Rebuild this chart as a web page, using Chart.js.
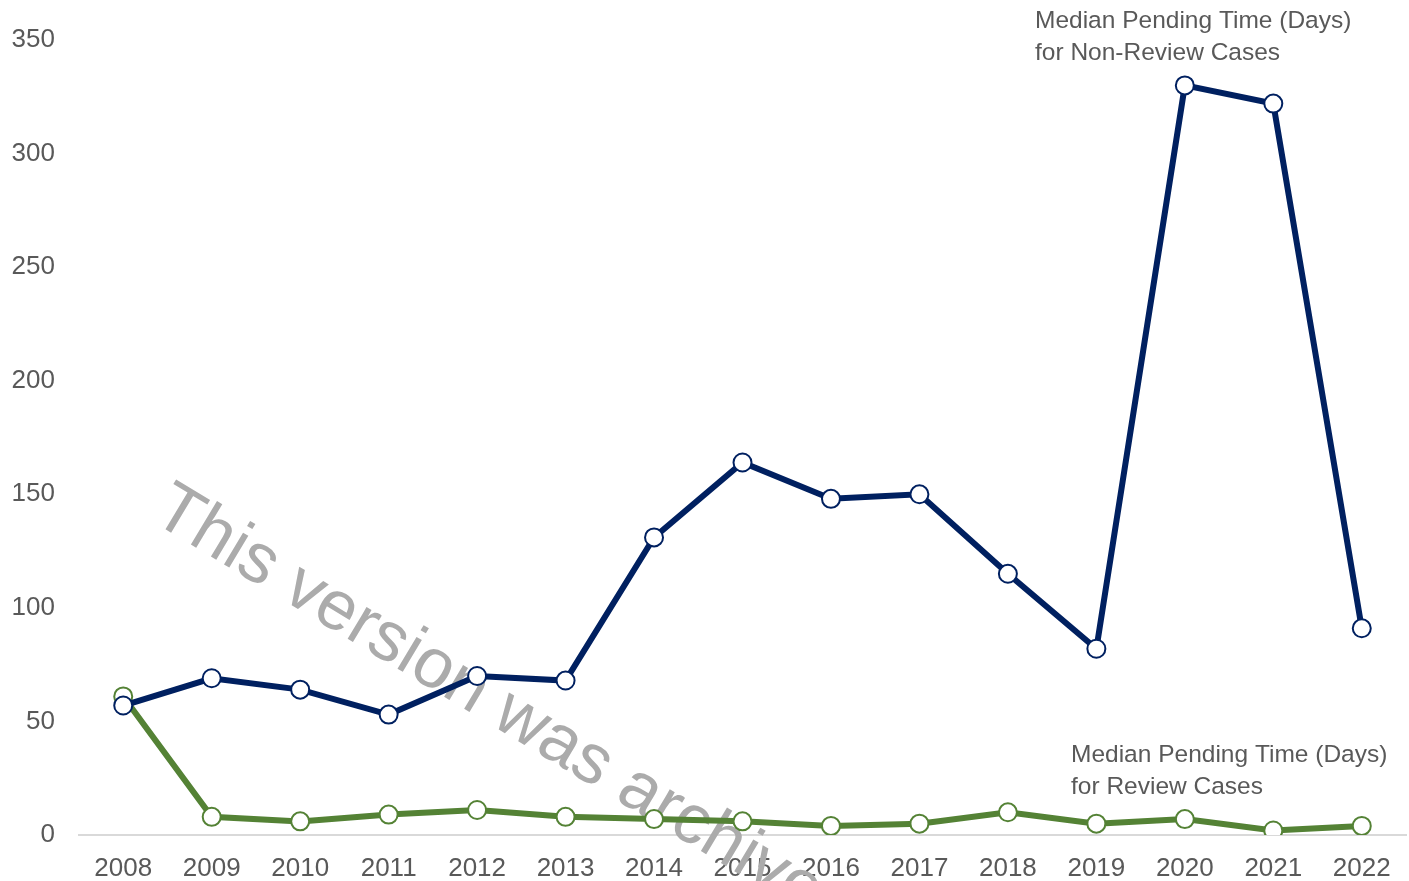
<!DOCTYPE html>
<html>
<head>
<meta charset="utf-8">
<script src="https://cdn.jsdelivr.net/npm/chart.js@4.4.1/dist/chart.umd.min.js"></script>
<style>
  html, body { margin: 0; padding: 0; background: #fff; }
  #wrap { width: 1409px; height: 881px; position: relative; }
</style>
</head>
<body>
<div id="wrap"><canvas id="grafico"></canvas></div>
<script>
const anios = ['2008', '2009', '2010', '2011', '2012', '2013', '2014', '2015',
               '2016', '2017', '2018', '2019', '2020', '2021', '2022'];
const noRevision = [57, 69, 64, 53, 70, 68, 131, 164, 148, 150, 115, 82, 330, 322, 91];
const revision = [61, 8, 6, 9, 11, 8, 7, 6, 4, 5, 10, 5, 7, 2, 4];
const etiquetaNoRevision = ['Median Pending Time (Days)', 'for Non-Review Cases'];
const etiquetaRevision = ['Median Pending Time (Days)', 'for Review Cases'];
const marcaAgua = 'This version was archived.';

const fuente = '"Liberation Sans", Arial, sans-serif';
const grisTexto = '#595959';

// etiquetas de las series y marca de agua
const textosExtra = {
    id: 'textosExtra',
    beforeDatasetsDraw(chart) {
        const ctx = chart.ctx;
        ctx.save();
        ctx.translate(150, 520);
        ctx.rotate(31 * Math.PI / 180);
        ctx.font = '70px ' + fuente;
        ctx.fillStyle = '#ababab';
        ctx.textBaseline = 'alphabetic';
        ctx.fillText(marcaAgua, 0, 0);
        ctx.restore();
    },
    afterDatasetsDraw(chart) {
        const ctx = chart.ctx;
        ctx.save();
        ctx.font = '24.5px ' + fuente;
        ctx.fillStyle = grisTexto;
        ctx.textBaseline = 'top';
        etiquetaNoRevision.forEach((t, i) => ctx.fillText(t, 1035, 9 + i * 32));
        etiquetaRevision.forEach((t, i) => ctx.fillText(t, 1071, 743 + i * 32));
        ctx.restore();
    }
};

let ctxGrafico = document.getElementById('grafico').getContext('2d');
new Chart(ctxGrafico, {
    type: 'line',
    data: {
        labels: anios,
        datasets: [{
            label: 'Non-Review Cases',
            data: noRevision,
            borderColor: '#002060',
            borderWidth: 6,
            pointRadius: 9,
            pointBorderWidth: 2,
            pointBackgroundColor: '#ffffff',
            pointBorderColor: '#002060',
            tension: 0
        }, {
            label: 'Review Cases',
            data: revision,
            borderColor: '#548235',
            borderWidth: 6,
            pointRadius: 9,
            pointBorderWidth: 2,
            pointBackgroundColor: '#ffffff',
            pointBorderColor: '#548235',
            tension: 0
        }]
    },
    options: {
        responsive: true,
        maintainAspectRatio: false,
        animation: false,
        layout: { autoPadding: false, padding: { top: 40, right: 3, left: 0, bottom: 0 } },
        plugins: {
            legend: { display: false },
            tooltip: { enabled: false }
        },
        scales: {
            x: {
                offset: true,
                grid: { display: false, drawTicks: false },
                border: { display: true, color: '#d9d9d9', width: 2 },
                ticks: { color: grisTexto, font: { family: fuente, size: 26 }, padding: 18, maxRotation: 0 },
                afterFit: (s) => { s.height = 46; s.paddingLeft = 0; s.paddingRight = 0; }
            },
            y: {
                min: 0,
                max: 350,
                grid: { display: false, drawTicks: false },
                border: { display: false },
                ticks: { stepSize: 50, color: grisTexto, font: { family: fuente, size: 26 }, padding: 24 },
                afterFit: (s) => { s.width = 79; }
            }
        }
    },
    plugins: [textosExtra]
});
</script>
</body>
</html>
